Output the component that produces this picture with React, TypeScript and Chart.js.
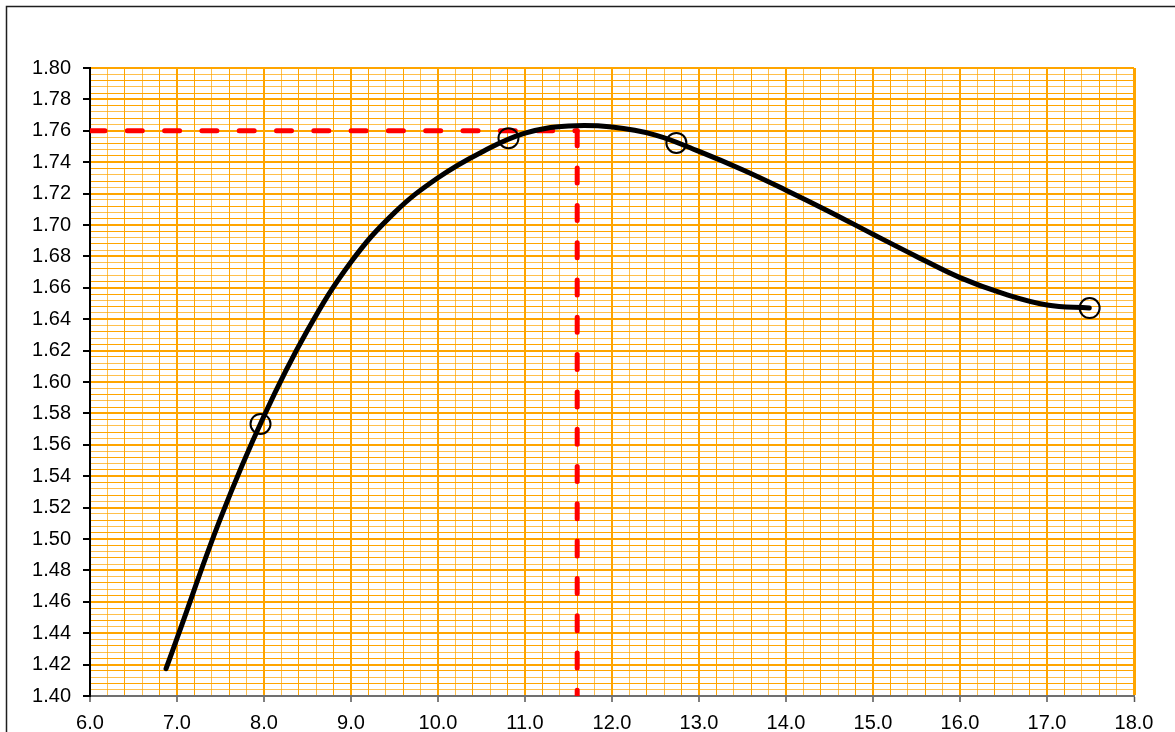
import React, { useEffect, useRef } from 'react';
import { Chart, registerables } from 'chart.js';

Chart.register(...registerables);

// Fitted curve
const curveX = [6.874, 7.0, 7.5, 8.0, 8.5, 9.0, 9.5, 10.0, 10.5, 11.0, 11.5, 12.0, 12.5, 13.0, 13.5, 14.0, 14.5, 15.0, 15.5, 16.0, 16.5, 17.0, 17.486];
const curveY = [1.4174, 1.4367, 1.5131, 1.5783, 1.6329, 1.6764, 1.7079, 1.7301, 1.7464, 1.7585, 1.763, 1.7624, 1.7573, 1.7469, 1.7352, 1.7222, 1.7085, 1.6941, 1.68, 1.6665, 1.6563, 1.6491, 1.6471];

// Measured points
const pointX = [7.96, 10.81, 12.74, 17.49];
const pointY = [1.5733, 1.7553, 1.7523, 1.6471];

// Reading of the optimum
const optX = 11.6;
const optY = 1.76;

// Axis settings
const xMin = 6.0;
const xMax = 18.0;
const xStep = 0.2;
const yMin = 1.4;
const yMax = 1.8;
const yStep = 0.004;

const ORANGE = '#FFA500';
const ORANGE_PALE = 'rgba(255,165,0,0.7)';
const FONT = { family: '"Liberation Sans", Arial, sans-serif', size: 20 };

const xIndex = (v: number) => Math.round((v - xMin) / xStep);
const yIndex = (v: number) => Math.round((v - yMin) / yStep);

const framePlugin = {
  id: 'frame',
  beforeDraw(chart: any) {
    const c = chart.ctx;
    c.save();
    c.fillStyle = '#ffffff';
    c.fillRect(0, 0, chart.width, chart.height);
    c.strokeStyle = '#1e1e1e';
    c.lineWidth = 1.5;
    c.strokeRect(6.5, 6.5, chart.width + 40, chart.height + 40);
    c.restore();
  },
};

export default function App() {
  const ref = useRef<HTMLCanvasElement | null>(null);

  useEffect(() => {
    document.body.style.margin = '0';
    if (!ref.current) return;
    const chart = new Chart(ref.current, {
      type: 'scatter',
      data: {
        datasets: [
          {
            label: 'curve',
            data: curveX.map((x, i) => ({ x, y: curveY[i] })),
            showLine: true,
            borderColor: '#000000',
            borderWidth: 5,
            borderCapStyle: 'round',
            borderJoinStyle: 'round',
            tension: 0.4,
            pointRadius: 0,
            fill: false,
          },
          {
            label: 'points',
            data: pointX.map((x, i) => ({ x, y: pointY[i] })),
            showLine: false,
            pointStyle: 'circle',
            pointRadius: 10,
            pointBorderWidth: 2,
            pointBorderColor: '#000000',
            pointBackgroundColor: 'rgba(0,0,0,0)',
          },
          {
            label: 'hline',
            data: [
              { x: xMin, y: optY },
              { x: optX, y: optY },
            ],
            showLine: true,
            borderColor: '#FF0000',
            borderWidth: 5,
            borderDash: [15, 22.3],
            borderCapStyle: 'round',
            pointRadius: 0,
          },
          {
            label: 'vline',
            data: [
              { x: optX, y: optY },
              { x: optX, y: yMin },
            ],
            showLine: true,
            borderColor: '#FF0000',
            borderWidth: 5,
            borderDash: [15, 22.3],
            borderCapStyle: 'round',
            pointRadius: 0,
          },
        ],
      },
      options: {
        responsive: false,
        maintainAspectRatio: false,
        animation: false,
        devicePixelRatio: 1,
        layout: { padding: { left: 0, top: 68, right: 41, bottom: 0 } },
        plugins: {
          legend: { display: false },
          tooltip: { enabled: false },
          title: { display: false },
        },
        scales: {
          x: {
            type: 'linear',
            min: xMin,
            max: xMax,
            afterFit: (s: any) => {
              s.height = 36;
            },
            ticks: {
              stepSize: xStep,
              autoSkip: false,
              maxRotation: 0,
              padding: 9,
              color: '#000000',
              font: FONT,
              callback: (v: any) => {
                const k = xIndex(Number(v));
                return k % 5 === 0 ? Number(v).toFixed(1) : '';
              },
            },
            grid: {
              drawTicks: true,
              tickLength: 6,
              color: (ctx: any) => {
                const k = xIndex(ctx.tick.value);
                if (k % 5 === 0) return ORANGE;
                return k % 2 === 1 ? ORANGE_PALE : ORANGE;
              },
              lineWidth: (ctx: any) => {
                const k = xIndex(ctx.tick.value);
                if (k === xIndex(xMax)) return 3;
                return k % 5 === 0 ? 2 : 1;
              },
              tickColor: (ctx: any) => (xIndex(ctx.tick.value) % 5 === 0 ? '#555555' : 'rgba(0,0,0,0)'),
              tickWidth: 1.5,
            },
            border: { display: true, color: '#707070', width: 2 },
          },
          y: {
            type: 'linear',
            min: yMin,
            max: yMax,
            afterFit: (s: any) => {
              s.width = 90;
            },
            ticks: {
              stepSize: yStep,
              autoSkip: false,
              padding: 12,
              color: '#000000',
              font: FONT,
              callback: (v: any) => {
                const k = yIndex(Number(v));
                return k % 5 === 0 ? Number(v).toFixed(2) : '';
              },
            },
            grid: {
              drawTicks: true,
              tickLength: 7,
              color: (ctx: any) => {
                const k = yIndex(ctx.tick.value);
                if (k % 5 === 0) return ORANGE;
                return k % 2 === 1 ? ORANGE_PALE : ORANGE;
              },
              lineWidth: (ctx: any) => (yIndex(ctx.tick.value) % 5 === 0 ? 2 : 1),
              tickColor: (ctx: any) => (yIndex(ctx.tick.value) % 5 === 0 ? '#000000' : 'rgba(0,0,0,0)'),
              tickWidth: 2,
            },
            border: { display: true, color: '#000000', width: 2 },
          },
        },
      },
      plugins: [framePlugin],
    } as any);
    return () => chart.destroy();
  }, []);

  return (
    <div style={{ width: 1175, height: 732 }}>
      <canvas ref={ref} width={1175} height={732} style={{ display: 'block' }} />
    </div>
  );
}
